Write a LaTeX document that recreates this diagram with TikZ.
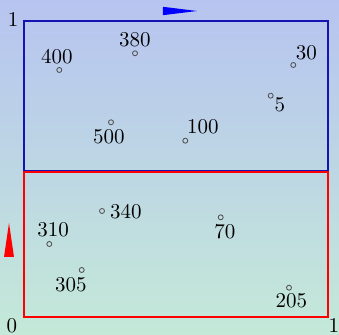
\documentclass[tikz,border=0pt]{standalone}
\begin{document}
\begin{tikzpicture}[x=0.5pt,y=-0.5pt,
  pt/.style={draw=black!70,line width=0.4pt,circle,inner sep=0pt,minimum size=2.5pt},
  lbl/.style={anchor=base,inner sep=0pt,font=\fontsize{10.5}{12}\selectfont}]
\definecolor{bgtop}{RGB}{183,196,240}
\definecolor{bgbot}{RGB}{196,233,216}
\definecolor{frameblue}{RGB}{20,20,180}
\useasboundingbox (0,0) rectangle (339,335);
\shade[top color=bgtop,bottom color=bgbot] (0,0) rectangle (339,335);
% frames
\draw[frameblue,line width=1pt] (24,21) rectangle (328.5,171);
\draw[red,line width=1pt] (24,172.5) rectangle (328.5,317);
% markers
\fill[blue] (163,6.8) -- (197,11) -- (163,15.2) -- cycle;
\fill[red] (4,257) -- (9,223) -- (14,257) -- cycle;
% axis labels
\node[lbl] (y1) at (13,26.7) {1};
\node[lbl] (o0) at (12,332.5) {0};
\node[lbl] (x1) at (334,333) {1};
% points
\node[pt] (p400) at (59.3,70) {};
\node[pt] (p380) at (135,53.3) {};
\node[pt] (p500) at (111,122.3) {};
\node[pt] (p100) at (185.3,140.7) {};
\node[pt] (p30) at (293.3,65) {};
\node[pt] (p5) at (270.7,95.7) {};
\node[pt] (p340) at (102,211) {};
\node[pt] (p310) at (49.3,244) {};
\node[pt] (p305) at (81.7,270) {};
\node[pt] (p70) at (220.7,217.3) {};
\node[pt] (p205) at (289,287.7) {};
% labels
\node[lbl] (l400) at (57,64) {400};
\node[lbl] (l380) at (135,46.7) {380};
\node[lbl] (l500) at (109,144) {500};
\node[lbl] (l100) at (203,134) {100};
\node[lbl] (l30) at (306.5,60) {30};
\node[lbl] (l5) at (280,111.7) {5};
\node[lbl] (l340) at (126,219) {340};
\node[lbl] (l310) at (53,236.7) {310};
\node[lbl] (l305) at (71,292) {305};
\node[lbl] (l70) at (225,239) {70};
\node[lbl] (l205) at (291.5,308) {205};
\end{tikzpicture}
\end{document}
